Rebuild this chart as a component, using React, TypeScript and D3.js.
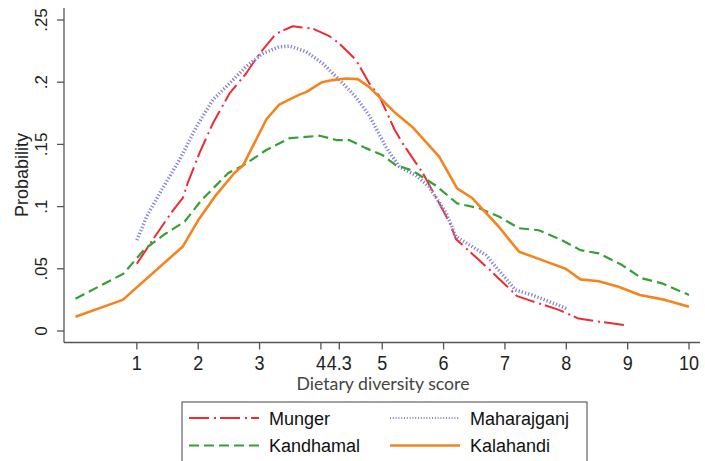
import React from 'react';
import * as d3 from 'd3';

const xTicks = [1, 2, 3, 4, 4.3, 5, 6, 7, 8, 9, 10];
const xTickLabels = ['1', '2', '3', '4', '4.3', '5', '6', '7', '8', '9', '10'];
const yTicks = [0, 0.05, 0.1, 0.15, 0.2, 0.25];
const yTickLabels = ['0', '.05', '.1', '.15', '.2', '.25'];

const munger: [number, number][] = [
  [1.0, 0.054], [1.24, 0.072], [1.56, 0.095], [1.75, 0.107], [1.83, 0.119], [2.02, 0.143], [2.24, 0.167],
  [2.51, 0.191], [2.78, 0.207], [3.0, 0.223], [3.27, 0.239], [3.54, 0.245], [3.87, 0.243],
  [4.14, 0.237], [4.3, 0.231], [4.57, 0.218], [4.79, 0.199], [4.95, 0.189], [5.2, 0.162],
  [5.33, 0.151], [5.66, 0.127], [5.87, 0.108], [6.1, 0.087], [6.2, 0.074], [6.69, 0.052],
  [7.2, 0.028], [7.44, 0.024], [7.88, 0.017], [8.2, 0.01], [8.53, 0.0075], [9.0, 0.0045],
];

const maharajganj: [number, number][] = [
  [1.0, 0.073], [1.16, 0.092], [1.4, 0.113], [1.7, 0.138], [1.97, 0.164], [2.24, 0.186],
  [2.51, 0.199], [2.78, 0.2125], [3.05, 0.223], [3.32, 0.2285], [3.49, 0.229], [3.76, 0.2246],
  [4.03, 0.215], [4.3, 0.202], [4.57, 0.188], [4.79, 0.173], [5.06, 0.148], [5.28, 0.132],
  [5.55, 0.125], [5.76, 0.116], [6.04, 0.095], [6.2, 0.076], [6.69, 0.061], [7.17, 0.033],
  [7.44, 0.029], [7.93, 0.0196], [8.0, 0.018],
];

const kandhamal: [number, number][] = [
  [0, 0.026], [0.78, 0.046], [1.13, 0.066], [1.46, 0.078], [1.78, 0.088], [2.05, 0.105],
  [2.49, 0.127], [2.73, 0.133], [3.11, 0.1455], [3.49, 0.155], [3.76, 0.156], [3.98, 0.157],
  [4.25, 0.1535], [4.46, 0.1535], [4.73, 0.147], [5.0, 0.1415], [5.22, 0.1334], [5.49, 0.129],
  [5.87, 0.117], [6.22, 0.1026], [6.58, 0.0986], [6.9, 0.092], [7.23, 0.0826], [7.55, 0.081],
  [7.93, 0.073], [8.23, 0.065], [8.53, 0.0624], [8.91, 0.053], [9.23, 0.0424], [9.56, 0.0383],
  [10, 0.029],
];

const kalahandi: [number, number][] = [
  [0, 0.0115], [0.77, 0.025], [1.75, 0.068], [2.0, 0.089], [2.27, 0.108], [2.59, 0.127],
  [2.73, 0.133], [3.11, 0.17], [3.32, 0.182], [3.65, 0.19], [3.76, 0.192], [4.02, 0.2],
  [4.19, 0.2017], [4.41, 0.203], [4.6, 0.2025], [4.79, 0.196], [5.22, 0.175], [5.49, 0.164],
  [5.93, 0.14], [6.22, 0.1147], [6.47, 0.1067], [6.9, 0.0838], [7.23, 0.0637], [7.55, 0.058],
  [7.99, 0.05], [8.23, 0.0415], [8.53, 0.04], [8.85, 0.0356], [9.2, 0.029], [9.61, 0.025],
  [10, 0.0195],
];

const seriesNames = ['Munger', 'Maharajganj', 'Kandhamal', 'Kalahandi'];
const seriesData = [munger, maharajganj, kandhamal, kalahandi];

const styles = [
  { color: '#ee2b33', width: 2, dash: '20,5,2,4' },
  { color: '#8585d6', width: 3.5, dash: '1.3,2' },
  { color: '#35a035', width: 2.2, dash: '10,5' },
  { color: '#f5841f', width: 2.6, dash: '' },
];

const W = 705;
const H = 461;
const font = 'Liberation Sans, Arial, sans-serif';

export default function App() {
  const x = d3.scaleLinear().domain([0, 10]).range([75.5, 689]);
  const y = d3.scaleLinear().domain([0, 0.25]).range([331, 20]);
  const line = d3
    .line<[number, number]>()
    .x((d) => x(d[0]))
    .y((d) => y(d[1]))
    .curve(d3.curveLinear);

  const axisColor = '#555';
  const axisX = 64;
  const axisY = 342.5;

  const legendRows = [
    [0, 1],
    [2, 3],
  ];

  return (
    <svg
      width={W}
      height={H}
      style={{ position: 'absolute', left: 0, top: 0, background: '#fff' }}
      fontFamily={font}
    >
      <rect x={0} y={0} width={W} height={H} fill="#fff" />
      {/* axes */}
      <line x1={axisX} x2={axisX} y1={8} y2={axisY} stroke={axisColor} strokeWidth={1.3} />
      <line x1={axisX} x2={700} y1={axisY} y2={axisY} stroke={axisColor} strokeWidth={1.3} />
      {yTicks.map((t, i) => (
        <g key={'y' + i}>
          <line x1={axisX - 7} x2={axisX} y1={y(t)} y2={y(t)} stroke={axisColor} strokeWidth={1.3} />
          <text
            transform={`translate(47,${y(t)}) rotate(-90)`}
            textAnchor="middle"
            fontSize={17}
            fill="#222"
          >
            {yTickLabels[i]}
          </text>
        </g>
      ))}
      {xTicks.map((t, i) => (
        <g key={'x' + i}>
          <line x1={x(t)} x2={x(t)} y1={axisY} y2={axisY + 7} stroke={axisColor} strokeWidth={1.3} />
          <text
            transform={`translate(${x(t)},369.5) scale(1,1.1)`}
            textAnchor="middle"
            fontSize={18}
            fill="#222"
          >
            {xTickLabels[i]}
          </text>
        </g>
      ))}
      <text
        transform={`translate(28,175) rotate(-90)`}
        textAnchor="middle"
        fontSize={18}
        fill="#222"
      >
        Probability
      </text>
      <text
        x={383}
        y={390}
        textAnchor="middle"
        fontSize={17}
        fill="#444"
        fontFamily="Lato, Open Sans, sans-serif"
        textLength={173}
        lengthAdjust="spacingAndGlyphs"
      >
        Dietary diversity score
      </text>
      {/* series */}
      {seriesData.map((d, i) => (
        <path
          key={seriesNames[i]}
          d={line(d) || ''}
          fill="none"
          stroke={styles[i].color}
          strokeWidth={styles[i].width}
          strokeDasharray={styles[i].dash || undefined}
          strokeLinejoin="round"
        />
      ))}
      {/* legend */}
      <rect x={182} y={402} width={405} height={75} fill="#fff" stroke="#444" strokeWidth={1} />
      {legendRows.map((row, r) =>
        row.map((si, c) => {
          const lx = c === 0 ? 189 : 390;
          const ly = r === 0 ? 418 : 445.5;
          const st = styles[si];
          return (
            <g key={seriesNames[si]}>
              <line
                x1={lx}
                x2={lx + 70}
                y1={ly}
                y2={ly}
                stroke={st.color}
                strokeWidth={si === 1 ? 2 : st.width}
                strokeDasharray={si === 1 ? '1,1.8' : st.dash || undefined}
              />
              <text x={lx + 80} y={ly + 6.5} fontSize={18} fill="#111">
                {seriesNames[si]}
              </text>
            </g>
          );
        })
      )}
    </svg>
  );
}
